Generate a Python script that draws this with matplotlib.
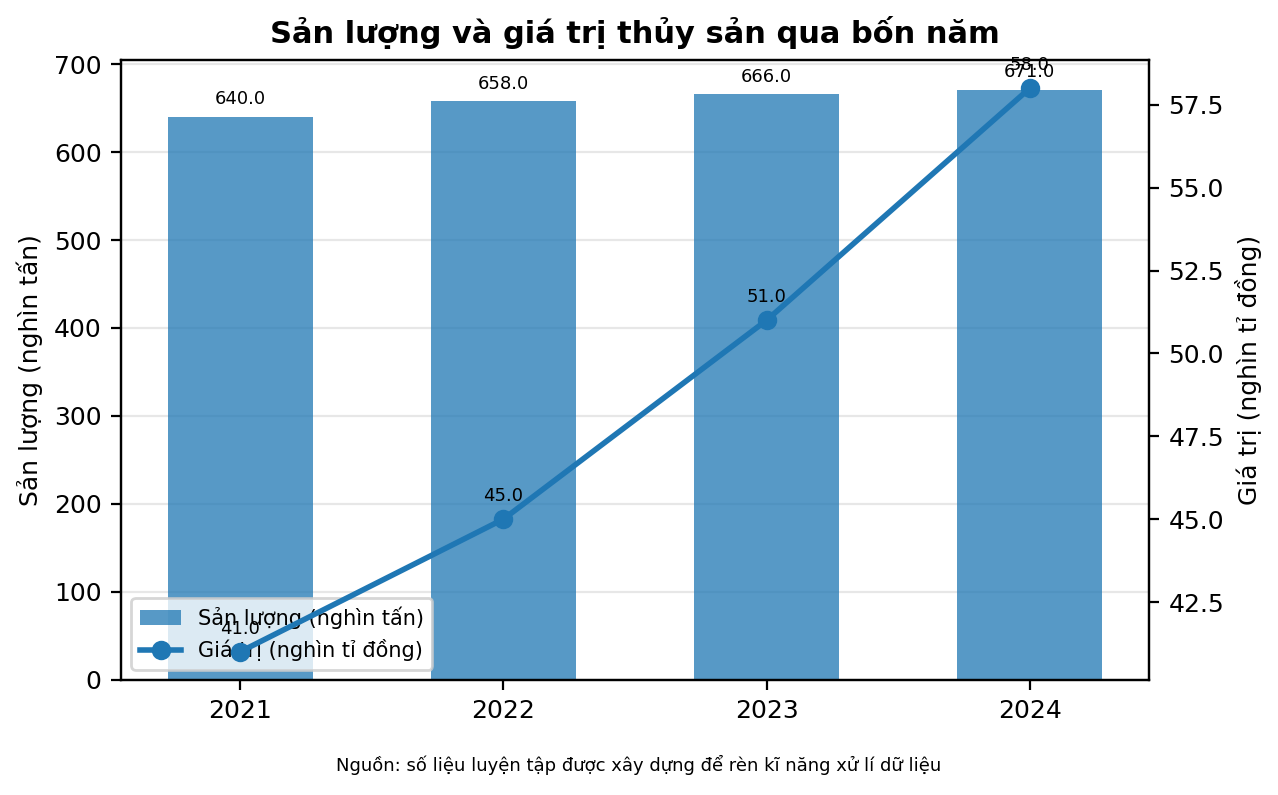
import matplotlib.pyplot as plt
import numpy as np

years = ["2021", "2022", "2023", "2024"]
san_luong = [640.0, 658.0, 666.0, 671.0]
gia_tri = [41.0, 45.0, 51.0, 58.0]

plt.rcParams["font.size"] = 9

fig, ax = plt.subplots(figsize=(6.39, 3.975), dpi=200)
fig.subplots_adjust(left=0.0947, right=0.899, top=0.9245, bottom=0.1447)
x = np.arange(len(years))

bars = ax.bar(x, san_luong, width=0.55, color="tab:blue", alpha=0.75,
              label="Sản lượng (nghìn tấn)")
for xi, v in zip(x, san_luong):
    ax.annotate(f"{v:.1f}", (xi, v), xytext=(0, 3), textcoords="offset points",
                ha="center", va="bottom", fontsize=6.5)
ax.set_ylabel("Sản lượng (nghìn tấn)")
ax.set_xticks(x)
ax.set_xticklabels(years)
ax.grid(True, axis="y", alpha=0.3)
ax.set_axisbelow(True)

ax2 = ax.twinx()
line, = ax2.plot(x, gia_tri, color="tab:blue", marker="o", linewidth=2,
                 label="Giá trị (nghìn tỉ đồng)")
for xi, v in zip(x, gia_tri):
    ax2.annotate(f"{v:.1f}", (xi, v), xytext=(0, 5), textcoords="offset points",
                 ha="center", va="bottom", fontsize=6.5)
ax2.set_ylabel("Giá trị (nghìn tỉ đồng)")

ax.set_title("Sản lượng và giá trị thủy sản qua bốn năm", fontweight="bold", fontsize=11)
ax.legend([bars, line], [bars.get_label(), line.get_label()],
          loc="lower left", fontsize=7.5)
fig.text(0.5, 0.03, "Nguồn: số liệu luyện tập được xây dựng để rèn kĩ năng xử lí dữ liệu",
         ha="center", fontsize=6.5)

fig.savefig("out.png", dpi=200)
